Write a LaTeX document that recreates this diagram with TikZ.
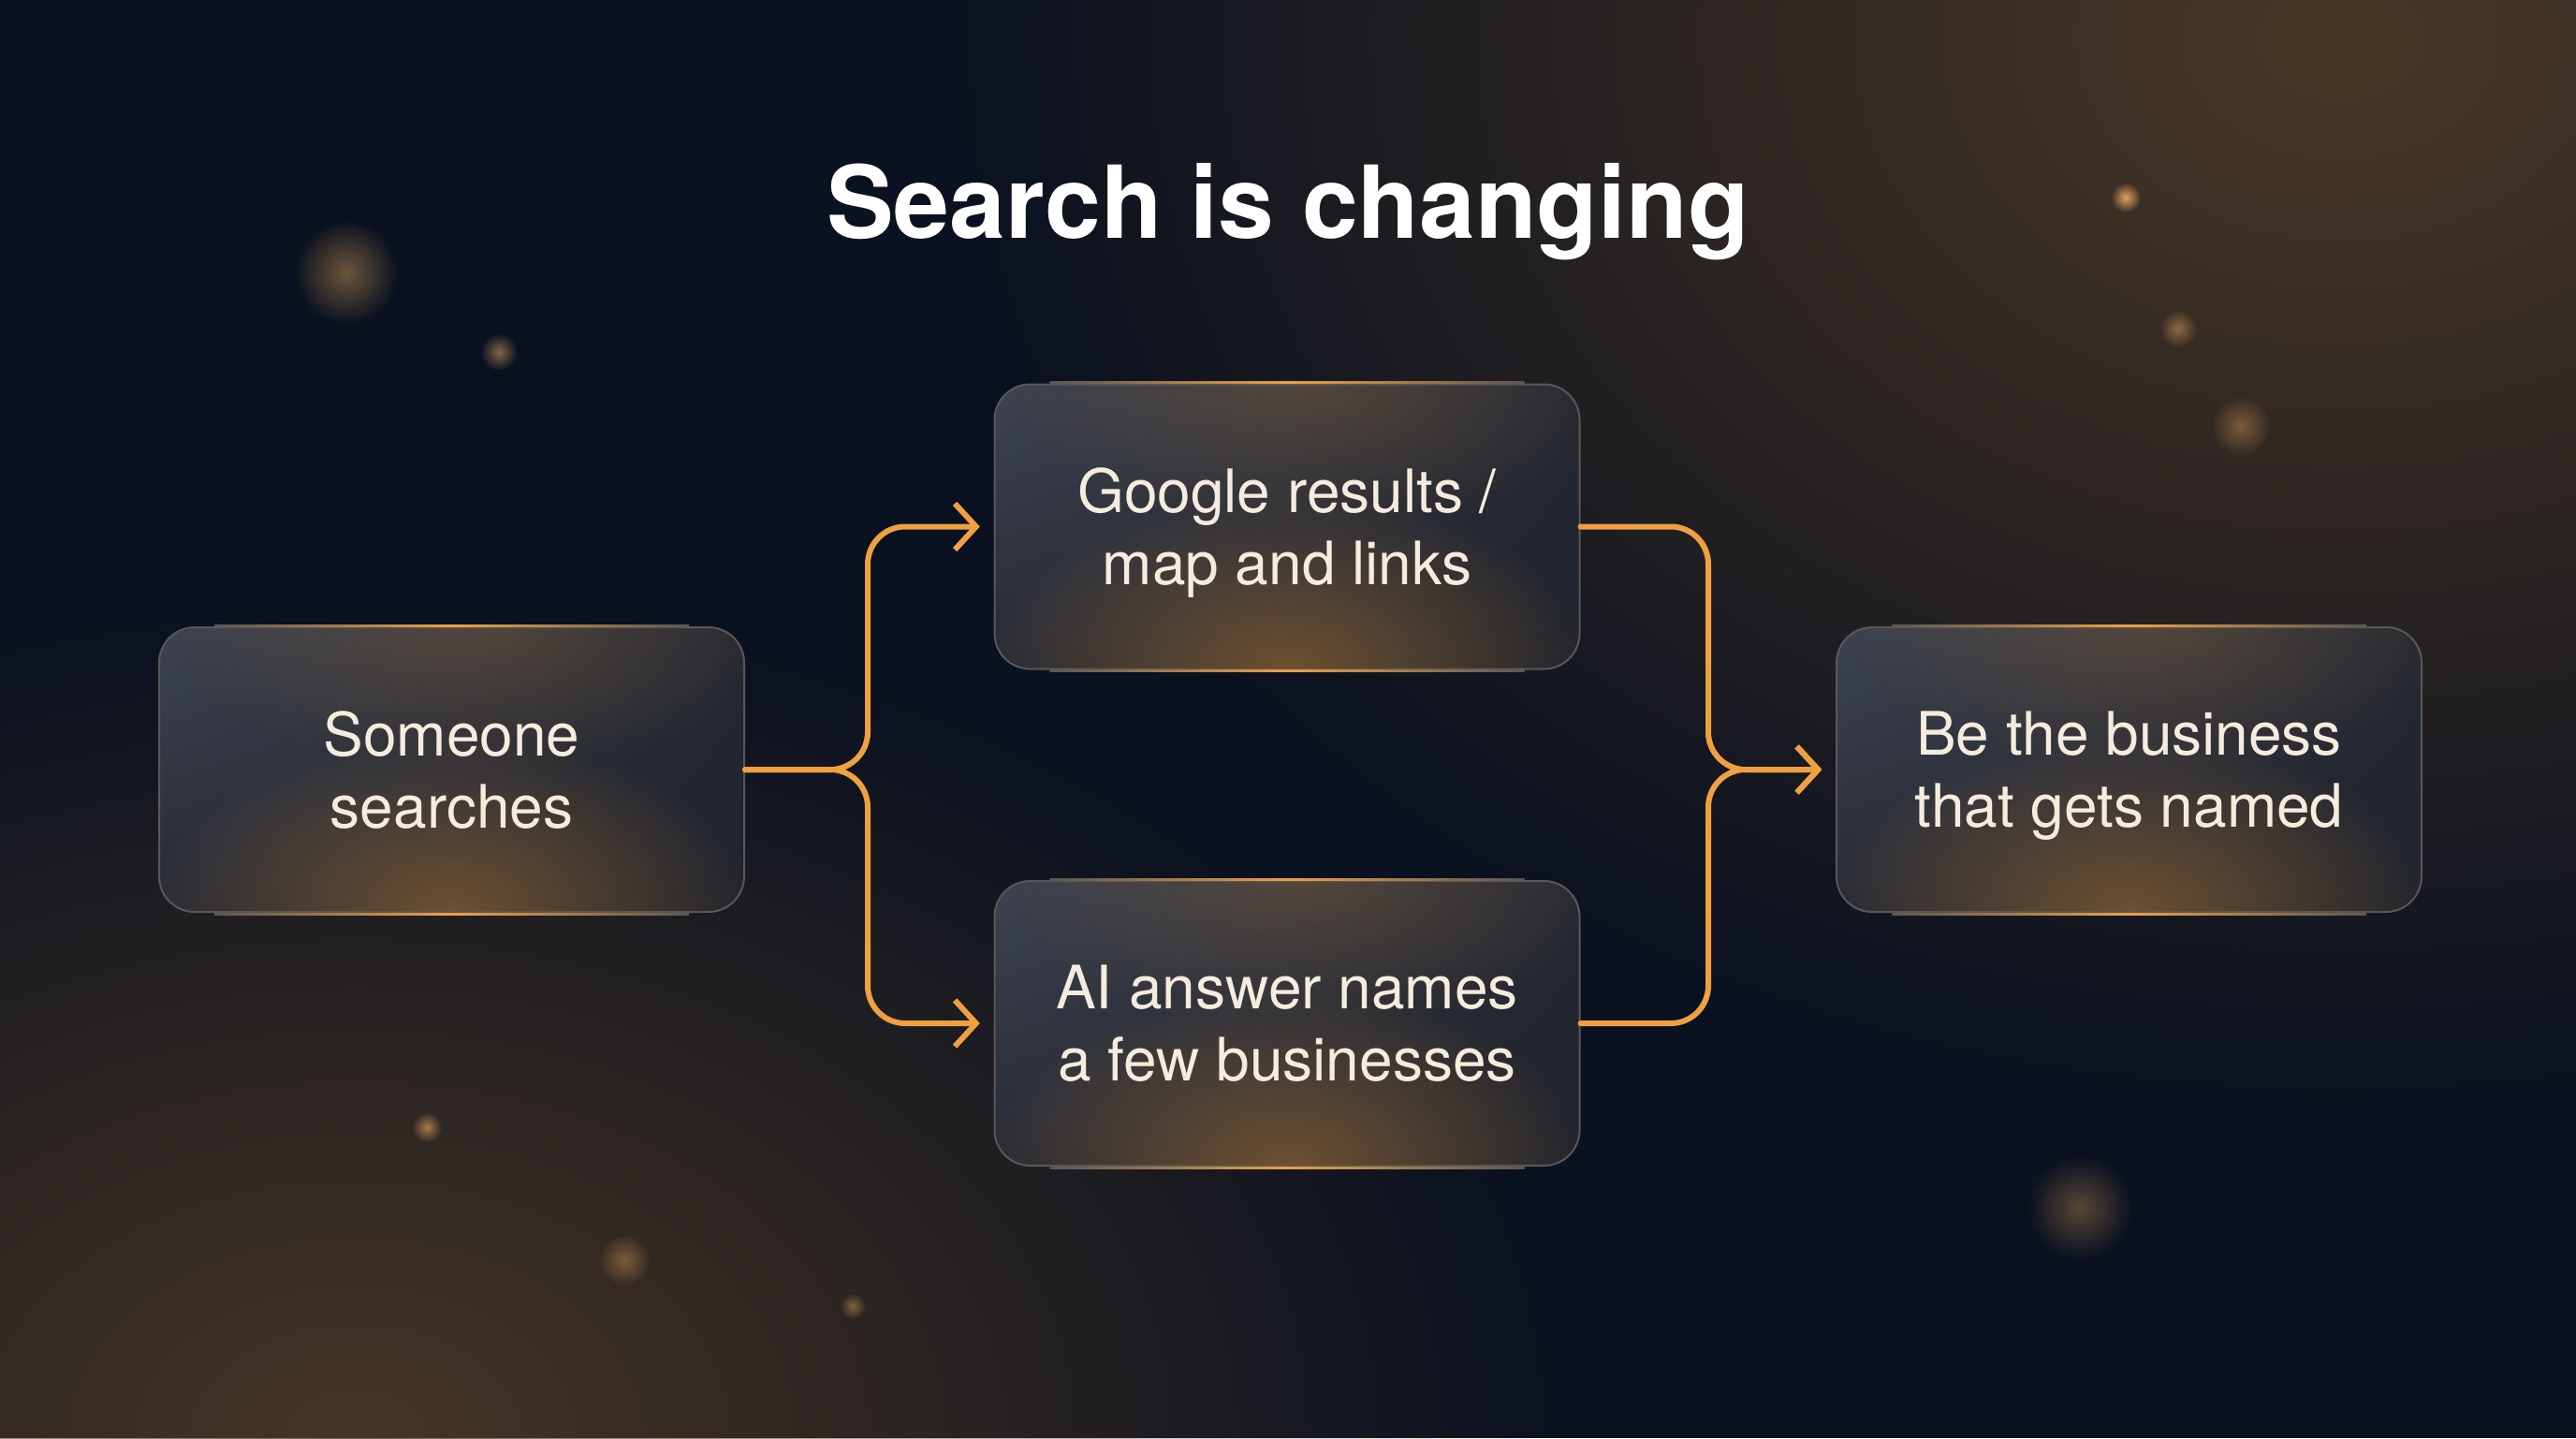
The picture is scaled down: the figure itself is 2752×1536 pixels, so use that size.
\documentclass[tikz,border=0pt]{standalone}
\usepackage{fontspec}
\setmainfont{TeX Gyre Heros}
\usepackage{tikz}
\usetikzlibrary{fadings}
\usetikzlibrary{shadings}
\usetikzlibrary{arrows.meta}

\definecolor{bgnavy}{HTML}{0A1120}
\definecolor{bgwarm}{HTML}{553E26}
\definecolor{floworange}{HTML}{EFA040}
\definecolor{cardtext}{HTML}{F6ECDD}
\definecolor{edgegrey}{HTML}{5A5755}
\definecolor{glowcol}{HTML}{B87A30}
\definecolor{dotorange}{HTML}{E8A860}
\definecolor{cardul}{HTML}{3D4350}
\definecolor{cardur}{HTML}{252933}
\definecolor{cardll}{HTML}{262A34}
\definecolor{cardlr}{HTML}{1F232C}

\newcommand{\cardfont}{\fontsize{48}{57.75}\selectfont}
\newcommand{\titlefont}{\fontsize{80.6}{96}\selectfont\bfseries}

\tikzfading[name=glowfade, inner color=transparent!0, outer color=transparent!100]

\tikzset{
  card/.style={rounded corners=28.5pt, minimum width=468.75pt, minimum height=228pt,
    draw=edgegrey, line width=1.5pt,
    path picture={
      \shade[upper left=cardul, upper right=cardur, lower left=cardll, lower right=cardlr]
        (path picture bounding box.south west) rectangle (path picture bounding box.north east);
      \fill[glowcol, opacity=.5, path fading=glowfade] (path picture bounding box.south) ellipse [x radius=330, y radius=190];
      \fill[glowcol, opacity=.25, path fading=glowfade] ([xshift=20pt]path picture bounding box.north) ellipse [x radius=330, y radius=160];
    }},
  cardlabel/.style={text=cardtext, align=center, font=\cardfont, yshift=-8.5pt, execute at end node={\strut}},
  edgelit/.style={left color=edgegrey, right color=edgegrey, middle color=floworange},
  flow/.style={draw=floworange, line width=4.5pt, rounded corners=30pt, line cap=round, line join=round,
    -{Straight Barb[length=17pt,width=37pt]}, shorten >=11pt},
  bokeh/.style={fill=dotorange, path fading=glowfade},
}

\begin{document}
\begin{tikzpicture}[x=0.75pt,y=0.75pt,yscale=-1,xscale=1]
\useasboundingbox (0,0) rectangle (2752,1536);

%Background
\fill[bgnavy] (0,0) rectangle (2752,1536);
\fill[bgwarm, opacity=.85, path fading=glowfade] (2500,40) ellipse [x radius=1500, y radius=1150];
\fill[bgwarm, opacity=.8, path fading=glowfade] (380,1536) ellipse [x radius=1300, y radius=900];

%Bokeh dots
\foreach \x/\y/\r/\o in {370/291/28/.45, 533/376/10/.55, 2271/211/8/.95, 2327/351/10/.5, 2394/455/16/.4,
                         456/1204/8/.65, 667/1346/14/.4, 911/1395/7/.45, 2222/1290/28/.35}
  \fill[bokeh, opacity=\o] (\x,\y) circle (2*\r);

% Text Node
\node[anchor=base, text=white, font=\titlefont] (title) at (1376,254) {Search is changing};

%Cards
\node[card, label={[cardlabel]center:Someone\\searches}] (someone) at (482.5,822) {};
\node[card, label={[cardlabel]center:Google results /\\map and links}] (google) at (1375,562.5) {};
\node[card, label={[cardlabel]center:AI answer names\\a few businesses}] (answer) at (1375,1093) {};
\node[card, label={[cardlabel]center:Be the business\\that gets named}] (named) at (2274.5,822) {};

%Edge highlights
\foreach \n in {someone,google,answer,named}{
  \shade[edgelit] ([xshift=45pt,yshift=-1.5pt]\n.north west) rectangle ([xshift=-45pt]\n.north east);
  \shade[edgelit] ([xshift=45pt]\n.south west) rectangle ([xshift=-45pt,yshift=1.5pt]\n.south east);
}

\coordinate (split) at (927,822);
\coordinate (merge) at (1825,822);

%Connectors
\draw[flow] (someone.east) -- (split) |- (google.west);
\draw[flow] (someone.east) -- (split) |- (answer.west);
\draw[flow] (google.east) -| (merge) -- (named.west);
\draw[flow] (answer.east) -| (merge) -- (named.west);

\end{tikzpicture}
\end{document}
